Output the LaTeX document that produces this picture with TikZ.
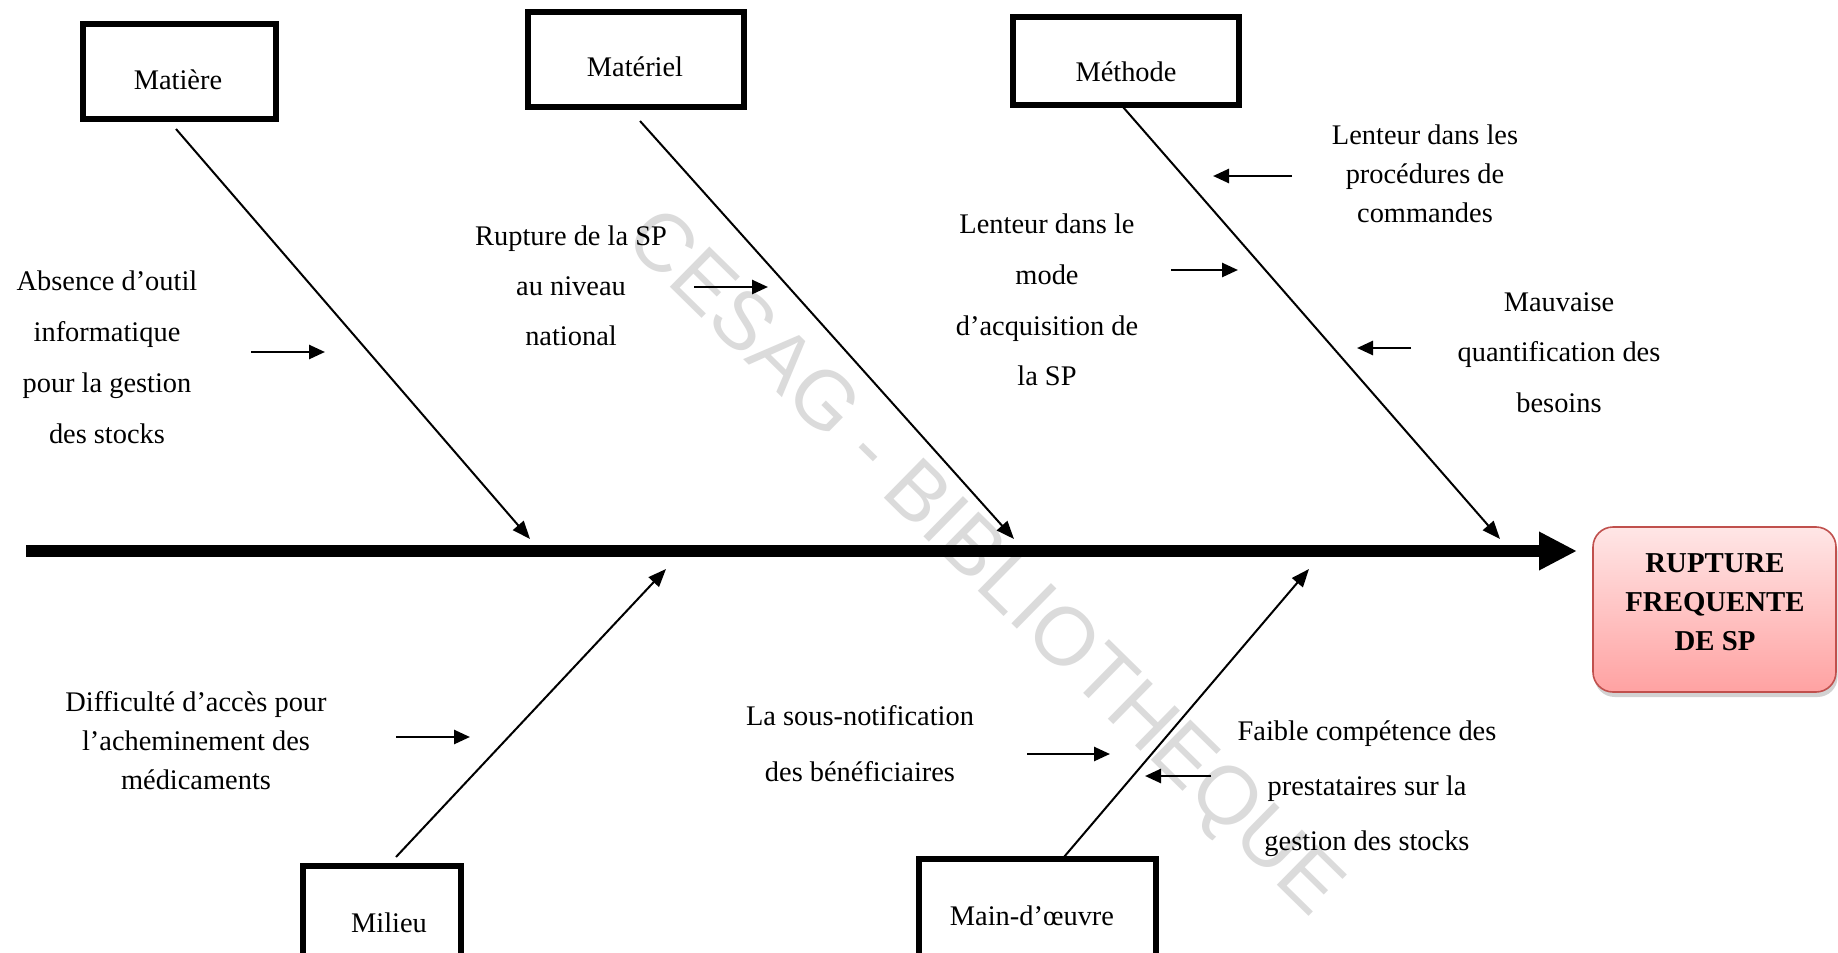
\documentclass[tikz,border=0pt]{standalone}
\usepackage{fontspec}
\setmainfont{Liberation Serif}
\newfontfamily\wmfont{Liberation Sans}
\usetikzlibrary{arrows.meta,shadows}
\definecolor{effborder}{HTML}{C0504D}
\definecolor{efftop}{HTML}{FFE6E6}
\definecolor{effbot}{HTML}{FFA2A2}
\begin{document}
\begin{tikzpicture}[x=0.5pt,y=-0.5pt,
  catbox/.style={draw=black, line width=3pt, fill=white, inner sep=0pt},
  cattext/.style={inner sep=0pt, font=\fontsize{14.2pt}{17pt}\selectfont},
  causetext/.style={align=center, inner sep=0pt, font=\fontsize{14.2pt}{#1}\selectfont},
  bone/.style={line width=1pt, -{Triangle[length=9pt,width=7pt]}},
  smallarrow/.style={line width=1.3pt, -{Triangle[length=8pt,width=7pt]}},
  spine/.style={line width=6pt, -{Triangle[length=19pt,width=18pt]}},
  effbox/.style={draw=effborder, line width=0.8pt, rounded corners=10pt,
    top color=efftop, bottom color=effbot,
    drop shadow={shadow xshift=0.8pt, shadow yshift=-2.5pt, opacity=0.35}},
  efftext/.style={align=center, inner sep=0pt, font=\bfseries\fontsize{14.4pt}{19.5pt}\selectfont},
  wm/.style={inner sep=0pt, text=black!14, rotate=-44.5, font=\wmfont\fontsize{41pt}{48pt}\selectfont}
]
\path[use as bounding box] (0,0) rectangle (1838,953);
\clip (0,0) rectangle (1838,953);
\fill[white] (0,0) rectangle (1838,953);

% watermark
\node[wm] (filigrane) at (982,565) {CESAG - BIBLIOTHEQUE};

% category boxes
\node[catbox, minimum width=96.5pt, minimum height=47.5pt] (matiere) at (179,71) {};
\node[cattext] (tmatiere) at (178,80) {Matière};
\node[catbox, minimum width=108pt, minimum height=47.5pt] (materiel) at (635.5,59) {};
\node[cattext] (tmateriel) at (635,67) {Matériel};
\node[catbox, minimum width=113pt, minimum height=44pt] (methode) at (1125.5,60.5) {};
\node[cattext] (tmethode) at (1126,72) {Méthode};
\node[catbox, minimum width=79pt, minimum height=60pt] (milieu) at (381.5,925.5) {};
\node[cattext] (tmilieu) at (389,923) {Milieu};
\node[catbox, minimum width=118.5pt, minimum height=60pt] (mainoeuvre) at (1037,918.5) {};
\node[cattext] (tmain) at (1032,916) {Main-d’œuvre};

% effect
\node[effbox, minimum width=121.5pt, minimum height=82.5pt] (effet) at (1714.5,609.5) {};
\node[efftext] (teffet) at (1715,602) {RUPTURE\\FREQUENTE\\DE SP};

% spine
\coordinate (s0) at (26,551);
\coordinate (s1) at (1577,551);
\draw[spine] (s0) -- (s1);

% bones
\coordinate (b1a) at (176,129);  \coordinate (b1b) at (530,539);
\coordinate (b2a) at (640,121);  \coordinate (b2b) at (1014,539);
\coordinate (b3a) at (1123,107); \coordinate (b3b) at (1500,539);
\coordinate (b4a) at (396,857);  \coordinate (b4b) at (666,569);
\coordinate (b5a) at (1064,857); \coordinate (b5b) at (1309,569);
\draw[bone] (b1a) -- (b1b);
\draw[bone] (b2a) -- (b2b);
\draw[bone] (b3a) -- (b3b);
\draw[bone] (b4a) -- (b4b);
\draw[bone] (b5a) -- (b5b);

% cause texts
\node[causetext=25.5pt] (c1) at (107,357.5) {Absence d’outil\\informatique\\pour la gestion\\des stocks};
\node[causetext=25pt] (c2) at (571,286) {Rupture de la SP\\au niveau\\national};
\node[causetext=25.3pt] (c3) at (1047,300) {Lenteur dans le\\mode\\d’acquisition de\\la SP};
\node[causetext=19.5pt] (c4) at (1425,173.5) {Lenteur dans les\\procédures de\\commandes};
\node[causetext=25.2pt] (c5) at (1559,352.5) {Mauvaise\\quantification des\\besoins};
\node[causetext=19.5pt] (c6) at (196,741) {Difficulté d’accès pour\\l’acheminement des\\médicaments};
\node[causetext=28pt] (c7) at (860,744) {La sous-notification\\des bénéficiaires};
\node[causetext=27.5pt] (c8) at (1367,789) {Faible compétence des\\prestataires sur la\\gestion des stocks};

% small arrows
\coordinate (a1a) at (251,352);  \coordinate (a1b) at (325,352);
\coordinate (a2a) at (694,287);  \coordinate (a2b) at (768,287);
\coordinate (a3a) at (1171,270); \coordinate (a3b) at (1238,270);
\coordinate (a4a) at (1292,176); \coordinate (a4b) at (1213,176);
\coordinate (a5a) at (1411,348); \coordinate (a5b) at (1357,348);
\coordinate (a6a) at (396,737);  \coordinate (a6b) at (470,737);
\coordinate (a7a) at (1027,754); \coordinate (a7b) at (1110,754);
\coordinate (a8a) at (1211,776); \coordinate (a8b) at (1145,776);
\draw[smallarrow] (a1a) -- (a1b);
\draw[smallarrow] (a2a) -- (a2b);
\draw[smallarrow] (a3a) -- (a3b);
\draw[smallarrow] (a4a) -- (a4b);
\draw[smallarrow] (a5a) -- (a5b);
\draw[smallarrow] (a6a) -- (a6b);
\draw[smallarrow] (a7a) -- (a7b);
\draw[smallarrow] (a8a) -- (a8b);
\end{tikzpicture}
\end{document}
